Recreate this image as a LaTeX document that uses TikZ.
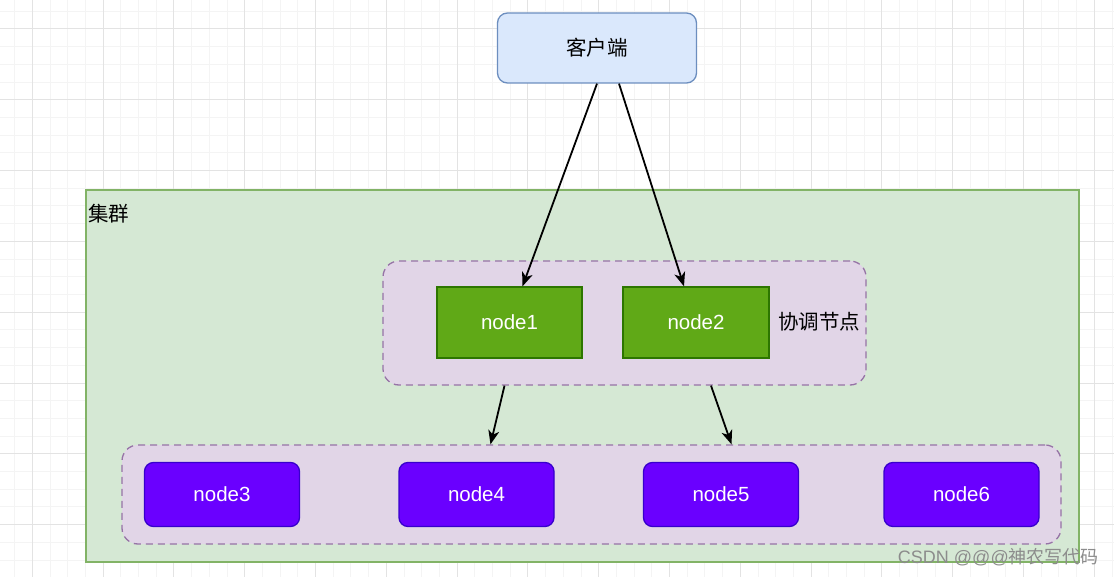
\documentclass[tikz,border=0pt]{standalone}
\usepackage{fontspec}
\setmainfont{Liberation Sans}
\newfontfamily\cjk{Noto Sans CJK SC}
\usetikzlibrary{arrows.meta,calc}
\definecolor{gridmajor}{HTML}{E3E3E3}
\definecolor{gridminor}{HTML}{F4F4F4}
\definecolor{clientfill}{HTML}{DAE8FC}
\definecolor{clientdraw}{HTML}{6C8EBF}
\definecolor{clusterfill}{HTML}{D5E8D4}
\definecolor{clusterdraw}{HTML}{82B366}
\definecolor{groupfill}{HTML}{E1D5E7}
\definecolor{groupdraw}{HTML}{9673A6}
\definecolor{greenfill}{HTML}{60A917}
\definecolor{greendraw}{HTML}{2D7600}
\definecolor{purplefill}{HTML}{6A00FF}
\definecolor{purpledraw}{HTML}{3700CC}
\definecolor{wmark}{HTML}{8C8C8C}
\begin{document}
\begin{tikzpicture}[x=1pt,y=-1pt,
  txt/.style={font=\fontsize{20.5}{24}\selectfont},
  clientbox/.style={txt,draw=clientdraw,fill=clientfill,line width=1.3pt,rounded corners=10pt,inner sep=0pt},
  clusterbox/.style={draw=clusterdraw,fill=clusterfill,line width=1.3pt,inner sep=0pt},
  groupbox/.style={draw=groupdraw,fill=groupfill,line width=1.3pt,dash pattern=on 7pt off 5pt,rounded corners=16pt,inner sep=0pt},
  greenbox/.style={txt,text=white,draw=greendraw,fill=greenfill,line width=1.3pt,inner sep=0pt},
  purplebox/.style={txt,text=white,draw=purpledraw,fill=purplefill,line width=1.3pt,rounded corners=9pt,inner sep=0pt,minimum width=155pt,minimum height=64pt},
  arr/.style={line width=1.8pt,-{Stealth[length=14pt,width=11pt,inset=4pt]}}
]
\useasboundingbox (0,0) rectangle (1114,577);
\fill[white] (0,0) rectangle (1114,577);
% grid
\foreach \k in {-1,...,61} \draw[gridminor,line width=1pt] ({32.3+17.7*\k},0) -- ({32.3+17.7*\k},577);
\foreach \k in {-1,...,31} \draw[gridminor,line width=1pt] (0,{29+17.7*\k}) -- (1114,{29+17.7*\k});
\foreach \k in {0,...,15} \draw[gridmajor,line width=1pt] ({32.3+70.8*\k},0) -- ({32.3+70.8*\k},577);
\foreach \k in {0,...,7} \draw[gridmajor,line width=1pt] (0,{29+70.8*\k}) -- (1114,{29+70.8*\k});

% client
\node[clientbox,minimum width=199pt,minimum height=70pt] (client) at (597,48) {\cjk 客户端};

% cluster
\node[clusterbox,minimum width=993pt,minimum height=372pt] (cluster) at (582.5,376) {};
\node[txt,anchor=west,inner sep=0pt] (clusterlabel) at (88,214) {\cjk 集群};

% coordinator group
\node[groupbox,minimum width=483pt,minimum height=124pt] (coord) at (624.5,323) {};
\node[greenbox,minimum width=145pt,minimum height=71pt] (n1) at (509.5,322.5) {node1};
\node[greenbox,minimum width=146pt,minimum height=71pt] (n2) at (696,322.5) {node2};
\node[txt,anchor=west,inner sep=0pt] (coordlabel) at (778,322) {\cjk 协调节点};

% lower group
\node[groupbox,minimum width=939pt,minimum height=99pt] (lower) at (591.5,494.5) {};
\node[purplebox] (n3) at (222,494.5) {node3};
\node[purplebox] (n4) at (476.5,494.5) {node4};
\node[purplebox] (n5) at (721,494.5) {node5};
\node[purplebox] (n6) at (961.5,494.5) {node6};

% arrows
\draw[arr] (client.south) -- ([xshift=13pt]n1.north);
\draw[arr] ([xshift=22pt]client.south) -- ([xshift=-12pt]n2.north);
\draw[arr] ([xshift=-120pt]coord.south) -- ([xshift=-101pt]lower.north);
\draw[arr] ([xshift=86.5pt]coord.south) -- ([xshift=140pt]lower.north);

% watermark
\node[anchor=east,inner sep=0pt,text=wmark,font=\fontsize{18}{21}\selectfont] (wm) at (1099,557) {CSDN @@@{\cjk 神农写代码}};
\end{tikzpicture}
\end{document}
